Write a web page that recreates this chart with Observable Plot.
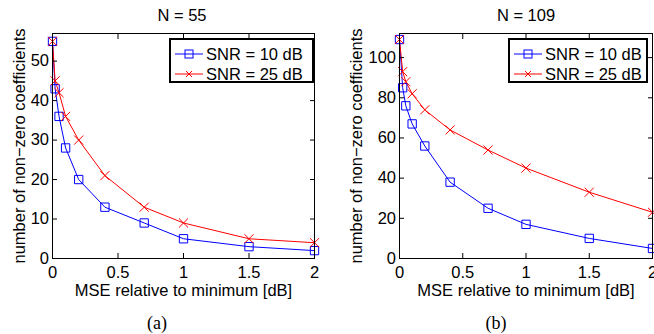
<!DOCTYPE html>
<html><head><meta charset="utf-8">
<script src="https://cdn.jsdelivr.net/npm/d3@7"></script>
<script src="https://cdn.jsdelivr.net/npm/@observablehq/plot@0.6"></script>
<style>
body{margin:0;background:#fff;}
#root{position:relative;width:654px;height:334px;overflow:hidden;font-family:"Liberation Sans",Arial,Helvetica,sans-serif;color:#000;}
.panel{position:absolute;top:0;width:327px;height:334px;}
.title{position:absolute;font-size:16.5px;line-height:16px;height:16px;transform:translateX(-50%);white-space:nowrap;}
.caption{position:absolute;font-family:"Liberation Serif","Times New Roman",serif;font-size:18px;line-height:18px;transform:translateX(-50%);white-space:nowrap;}
.legend{position:absolute;border:2px solid #000;background:#fff;box-sizing:border-box;}
.legend .row{position:absolute;left:0;height:20px;width:100%;}
.legend svg{position:absolute;left:4px;top:0;}
.legend span{position:absolute;left:35px;top:2px;font-size:16.5px;line-height:16px;white-space:nowrap;}
</style></head>
<body><div id="root"></div>
<script>
// ---- data ----
const titles = ["N = 55", "N = 109"];
const captions = ["(a)", "(b)"];
const seriesNames = ["SNR = 10 dB", "SNR = 25 dB"];
const xTicks = [0, 0.5, 1, 1.5, 2];
const mseA = [0, 0.02, 0.05, 0.1, 0.2, 0.4, 0.7, 1, 1.5, 2];
const nzA10 = [55, 43, 36, 28, 20, 13, 9, 5, 3, 2];
const nzA25 = [55, 45, 42, 36, 30, 21, 13, 9, 5, 4];
const yTicksA = [0, 10, 20, 30, 40, 50];
const mseB = [0, 0.025, 0.05, 0.1, 0.2, 0.4, 0.7, 1, 1.5, 2];
const nzB10 = [109, 85, 76, 67, 56, 38, 25, 17, 10, 5];
const nzB25 = [109, 93, 88, 82, 74, 64, 54, 45, 33, 23];
const yTicksB = [0, 20, 40, 60, 80, 100];

const BLUE = "#0000ff", RED = "#ff0000";
const FONT = "'Liberation Sans', Arial, Helvetica, sans-serif";

function makePanel({x, s10, s25, yMax, yTicks, marginLeft, marginRight, yLabelOffset}) {
  const d10 = x.map((v, i) => ({x: v, y: s10[i]}));
  const d25 = x.map((v, i) => ({x: v, y: s25[i]}));
  return Plot.plot({
    width: 327, height: 334,
    marginTop: 33, marginBottom: 76, marginLeft, marginRight,
    style: {fontFamily: FONT, fontSize: "16.5px", color: "#000", background: "transparent"},
    x: {domain: [0, 2]},
    y: {domain: [0, yMax]},
    marks: [
      Plot.line(d10, {x: "x", y: "y", stroke: BLUE, strokeWidth: 1}),
      Plot.line(d25, {x: "x", y: "y", stroke: RED, strokeWidth: 1}),
      Plot.dot(d10, {x: "x", y: "y", symbol: "square", r: 4.7, stroke: BLUE, fill: "none", strokeWidth: 1}),
      Plot.dot(d25, {x: "x", y: "y", symbol: "times", r: 4.2, stroke: RED, strokeWidth: 1}),
      Plot.axisX({ticks: xTicks, tickSize: -5, tickPadding: 12.5, tickFormat: d => String(d),
        label: "MSE relative to minimum [dB]", labelAnchor: "center", labelOffset: 37, labelArrow: "none"}),
      Plot.axisX({anchor: "top", ticks: xTicks, tickSize: -5, tickFormat: () => "", label: null}),
      Plot.axisY({ticks: yTicks, tickSize: -5, tickPadding: 8.5,
        label: "number of non\u2212zero coefficients", labelAnchor: "center", labelOffset: yLabelOffset, labelArrow: "none"}),
      Plot.axisY({anchor: "right", ticks: yTicks, tickSize: -5, tickFormat: () => "", label: null}),
      Plot.frame({stroke: "#000", strokeWidth: 1})
    ]
  });
}

const root = document.getElementById("root");
const panels = [
  {left: 0, x: mseA, s10: nzA10, s25: nzA25, yMax: 57, yTicks: yTicksA, marginLeft: 52, marginRight: 13, yLabelOffset: 39,
   titleX: 182, capX: 157, legend: {left: 169, width: 145}},
  {left: 327, x: mseB, s10: nzB10, s25: nzB25, yMax: 112, yTicks: yTicksB, marginLeft: 72, marginRight: 2, yLabelOffset: 49,
   titleX: 526, capX: 496, legend: {left: 508, width: 140}}
];

panels.forEach((p, i) => {
  const div = document.createElement("div");
  div.className = "panel";
  div.style.left = p.left + "px";
  div.appendChild(makePanel(p));
  root.appendChild(div);

  const t = document.createElement("div");
  t.className = "title";
  t.style.left = p.titleX + "px";
  t.style.top = "7px";
  t.textContent = titles[i];
  root.appendChild(t);

  const c = document.createElement("div");
  c.className = "caption";
  c.style.left = p.capX + "px";
  c.style.top = "314px";
  c.textContent = captions[i];
  root.appendChild(c);

  const lg = document.createElement("div");
  lg.className = "legend";
  lg.style.left = p.legend.left + "px";
  lg.style.top = "38px";
  lg.style.width = p.legend.width + "px";
  lg.style.height = "45px";
  [[BLUE, "square"], [RED, "times"]].forEach(([col, sym], j) => {
    const row = document.createElement("div");
    row.className = "row";
    row.style.top = (4 + j * 20) + "px";
    const half = 4;
    const mk = sym === "square"
      ? `<rect x="${14 - half}" y="${10 - half}" width="${2 * half}" height="${2 * half}" fill="none" stroke="${col}"/>`
      : `<path d="M11,7L17,13M11,13L17,7" stroke="${col}"/>`;
    row.innerHTML = `<svg width="30" height="20"><line x1="0" y1="10" x2="28" y2="10" stroke="${col}"/>${mk}</svg><span>${seriesNames[j]}</span>`;
    lg.appendChild(row);
  });
  root.appendChild(lg);
});
</script>
</body></html>
